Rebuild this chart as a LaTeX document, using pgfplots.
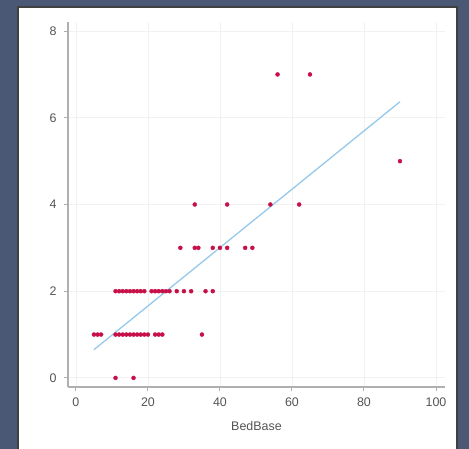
\documentclass[border=0pt]{standalone}
\usepackage{pgfplots}
\pgfplotsset{compat=1.18}
\usepackage{fontspec}
\setmainfont{Liberation Sans}
\definecolor{bgslate}{RGB}{74,88,117}
\definecolor{mk}{RGB}{200,16,72}
\definecolor{fitc}{RGB}{150,202,236}
\definecolor{axgrey}{RGB}{175,175,175}
\definecolor{txtgrey}{RGB}{85,85,85}
\begin{document}
\begin{tikzpicture}
\useasboundingbox (0,0) rectangle (469bp,449bp);
\fill[bgslate] (0,0) rectangle (469bp,449bp);
\fill[white] (18bp,0) rectangle (457bp,442bp);
\draw[black!75, line width=1.2bp] (18bp,0) -- (18bp,442bp) -- (457bp,442bp) -- (457bp,0);
\begin{axis}[
  at={(68bp,62bp)}, anchor=south west,
  scale only axis, width=377bp, height=365bp,
  xmin=-2.2, xmax=102.5, ymin=-0.21, ymax=8.21,
  axis x line*=bottom, axis y line*=left,
  axis line style={axgrey, line width=1.8bp},
  xtick={0,20,40,60,80,100}, ytick={0,2,4,6,8},
  tick align=outside, major tick length=4bp,
  tick style={axgrey, line width=1bp},
  grid=major, major grid style={draw=black!5, line width=0.8bp},
  /pgf/number format/assume math mode=true,
  ticklabel style={font=\fontsize{12.5}{13}\selectfont, text=txtgrey},
  xticklabel style={yshift=-3bp},
  yticklabel style={xshift=-4bp},
  xlabel={BedBase},
  xlabel style={font=\fontsize{12.5}{13}\selectfont, text=txtgrey, at={(axis description cs:0.5,-0.107)}, anchor=center},
  clip=false,
]
\addplot[fitc, line width=1.3bp] coordinates {(5,0.65) (90,6.37)};
\addplot[only marks, mark=*, mark size=2bp, mark options={fill=mk, draw=mk}] coordinates {
(11,0) (16,0)
(5,1) (6,1) (7,1) (11,1) (12,1) (13,1) (14,1) (15,1) (16,1) (17,1) (18,1) (19,1) (20,1) (22,1) (23,1) (24,1) (35,1)
(11,2) (12,2) (13,2) (14,2) (15,2) (16,2) (17,2) (18,2) (19,2) (21,2) (22,2) (23,2) (24,2) (25,2) (26,2) (28,2) (30,2) (32,2) (36,2) (38,2)
(29,3) (33,3) (34,3) (38,3) (40,3) (42,3) (47,3) (49,3)
(33,4) (42,4) (54,4) (62,4)
(90,5)
(56,7) (65,7)
};
\end{axis}
\end{tikzpicture}
\end{document}
